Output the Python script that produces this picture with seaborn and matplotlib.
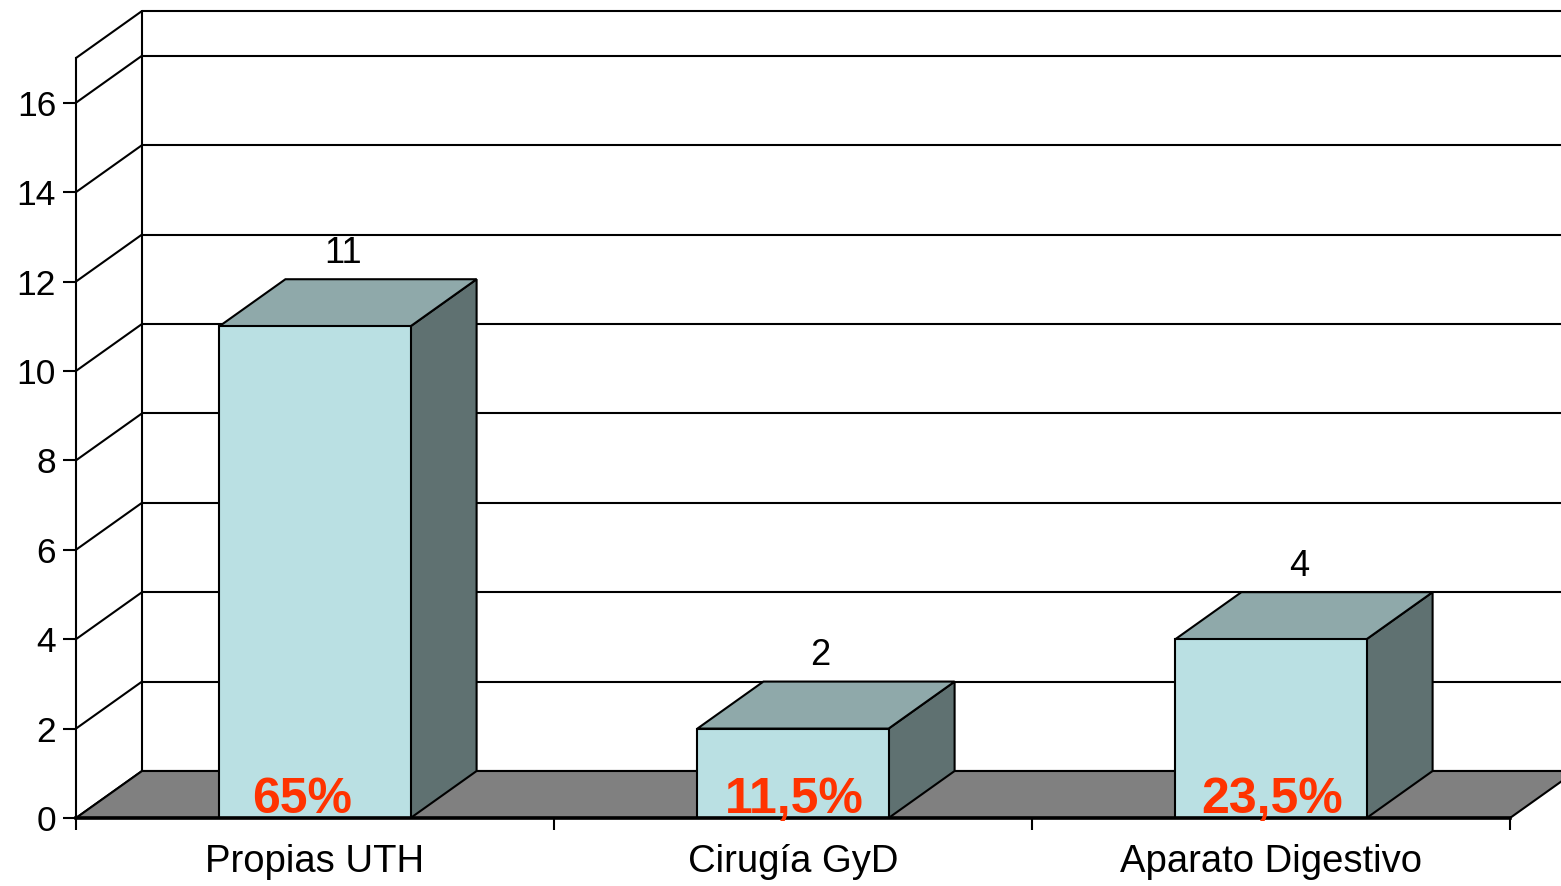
import matplotlib
matplotlib.use("Agg")
import matplotlib.pyplot as plt
import seaborn as sns
import pandas as pd
from matplotlib.patches import Polygon

# ---- data ----
categories = ["Propias UTH", "Cirugía GyD", "Aparato Digestivo"]
counts = [11, 2, 4]
percent_labels = ["65%", "11,5%", "23,5%"]
y_ticks = [0, 2, 4, 6, 8, 10, 12, 14, 16]
y_max = 17

# ---- style ----
FRONT = "#BAE0E3"
TOP = "#8FA9AA"
SIDE = "#5F7171"
FLOOR = "#808080"
PCT = "#FF3300"
LW = 1.5
pct_shift_pt = [-9, 1, 1]   # horizontal nudge of the percent labels (points)

sns.set_theme(style="white")
plt.rcParams["font.family"] = ["Liberation Sans", "DejaVu Sans"]
plt.rcParams["text.color"] = "black"
plt.rcParams["xtick.color"] = "black"
plt.rcParams["ytick.color"] = "black"

W, H = 1561, 886
fig = plt.figure(figsize=(W / 100, H / 100), dpi=100)
ax = fig.add_axes([76 / W, 68 / H, 1434 / W, 760 / H])
ax.set_facecolor("none")

df = pd.DataFrame({"cat": categories, "n": counts})
sns.barplot(data=df, x="cat", y="n", ax=ax, color=FRONT, saturation=1,
            width=0.4, edgecolor="black", linewidth=LW, errorbar=None, zorder=4)
bars = list(ax.patches)

ax.set_xlim(-0.5, len(categories) - 0.5)
ax.set_ylim(0, y_max)
x0, x1 = ax.get_xlim()

# depth of the 3D effect, converted from pixels to data units
ddx = 66 / (ax.bbox.width / (x1 - x0))
ddy = 47 / (ax.bbox.height / y_max)

# back wall grid lines + diagonals on the left wall
for v in y_ticks + [y_max]:
    ax.plot([x0 + ddx, x1 + ddx + 1], [v + ddy, v + ddy], color="black",
            lw=LW, clip_on=False, zorder=0.5)
    ax.plot([x0, x0 + ddx], [v, v + ddy], color="black", lw=LW,
            clip_on=False, zorder=0.5)
ax.plot([x0 + ddx, x0 + ddx], [ddy, y_max + ddy], color="black", lw=LW,
        clip_on=False, zorder=0.5)

# floor
floor = Polygon([(x0, 0), (x1, 0), (x1 + ddx, ddy), (x0 + ddx, ddy)],
                closed=True, facecolor=FLOOR, edgecolor="black", lw=LW,
                clip_on=False, zorder=1)
ax.add_patch(floor)

# 3D faces of the bars
for p in bars:
    bx, bw, bh = p.get_x(), p.get_width(), p.get_height()
    side = Polygon([(bx + bw, 0), (bx + bw, bh), (bx + bw + ddx, bh + ddy),
                    (bx + bw + ddx, ddy)], closed=True, facecolor=SIDE,
                   edgecolor="black", lw=LW, clip_on=False, zorder=3)
    top = Polygon([(bx, bh), (bx + bw, bh), (bx + bw + ddx, bh + ddy),
                   (bx + ddx, bh + ddy)], closed=True, facecolor=TOP,
                  edgecolor="black", lw=LW, clip_on=False, zorder=3)
    ax.add_patch(side)
    ax.add_patch(top)

# labels
for i, (v, pl) in enumerate(zip(counts, percent_labels)):
    ax.annotate(str(v), xy=(i + ddx * 0.42, v + ddy), xytext=(0, 12),
                textcoords="offset points", ha="center", va="baseline",
                fontsize=26, color="black", zorder=6, annotation_clip=False)
    ax.annotate(pl, xy=(i, 0), xytext=(pct_shift_pt[i], 3.5),
                textcoords="offset points", ha="center", va="baseline",
                fontsize=36, fontweight="bold", color=PCT, zorder=6)

# spines and ticks
for s in ["top", "right"]:
    ax.spines[s].set_visible(False)
ax.spines["left"].set_color("black")
ax.spines["left"].set_linewidth(LW)
ax.spines["bottom"].set_color("black")
ax.spines["bottom"].set_linewidth(2.6)
ax.spines["bottom"].set_zorder(5)

ax.set_xlabel("")
ax.set_ylabel("")
ax.set_yticks(y_ticks)
ax.set_yticklabels([str(t) for t in y_ticks])
ax.tick_params(axis="y", which="major", left=True, length=9.4, width=LW,
               pad=5, labelsize=25.5, direction="out")
ax.set_xticks(range(len(categories)))
ax.set_xticklabels(categories)
ax.set_xticks([x0 + k for k in range(len(categories) + 1)], minor=True)
ax.tick_params(axis="x", which="major", bottom=True, length=0, pad=19,
               labelsize=27.5)
ax.tick_params(axis="x", which="minor", bottom=True, length=8.6, width=LW,
               direction="out")

fig.savefig("out.png", dpi=100)
